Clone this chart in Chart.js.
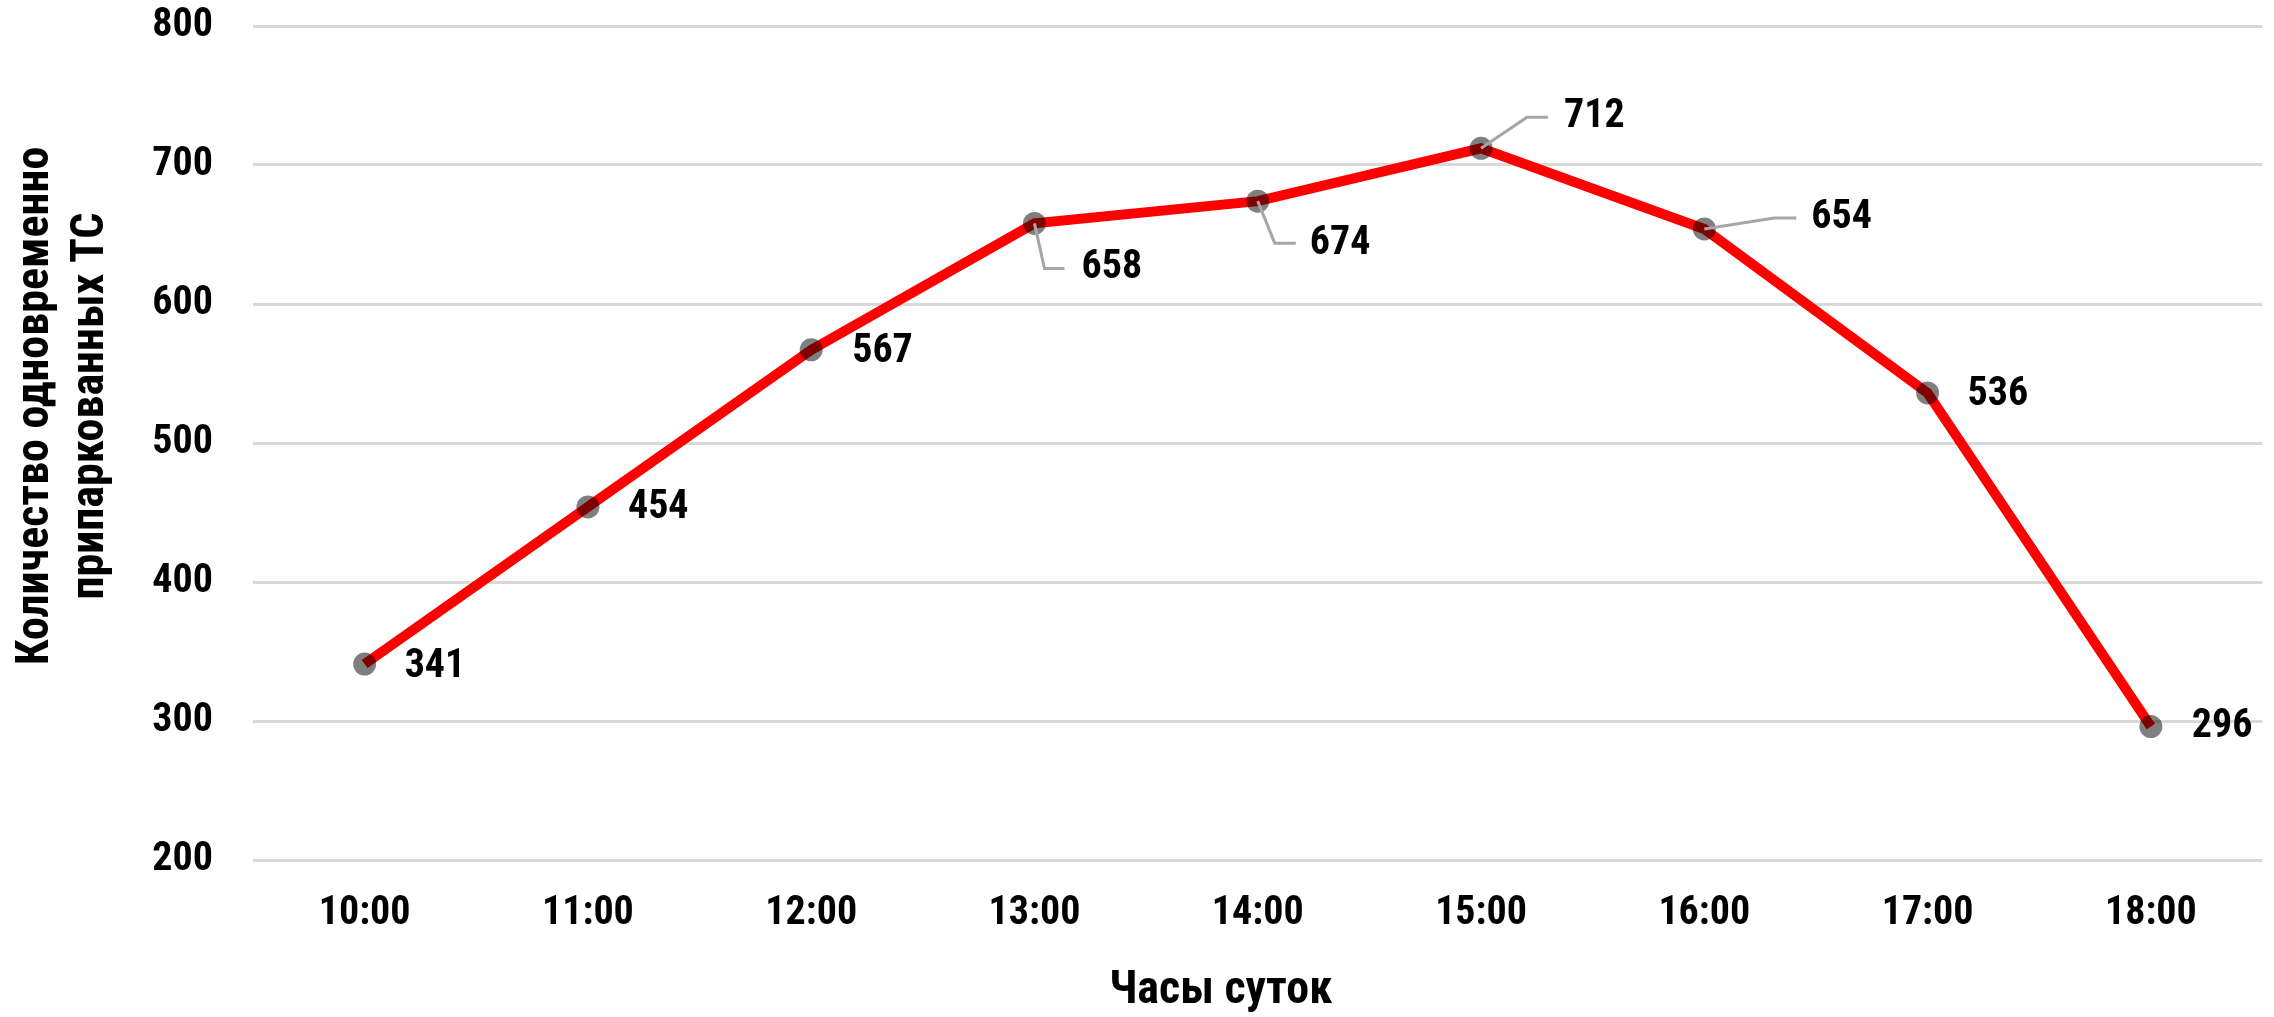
<!DOCTYPE html>
<html>
<head>
<meta charset="utf-8">
<script src="https://cdn.jsdelivr.net/npm/chart.js@4.4.0/dist/chart.umd.min.js"></script>
<style>
  html, body { margin: 0; padding: 0; background: #ffffff; }
  #wrap { width: 2274px; height: 1017px; }
</style>
</head>
<body>
<div id="wrap"><canvas id="parkChart" width="2274" height="1017"></canvas></div>
<script>
// chart data
var hours = ['10:00', '11:00', '12:00', '13:00', '14:00', '15:00', '16:00', '17:00', '18:00'];
var parkedCars = [341, 454, 567, 658, 674, 712, 654, 536, 296];
var yTicks = [200, 300, 400, 500, 600, 700, 800];
var xTitle = 'Часы суток';
var yTitle = ['Количество одновременно', 'припаркованных ТС'];

// narrow bold face, close to Arial Narrow
var FONT = 'Roboto, "Liberation Sans", sans-serif';
var WEIGHT = 'bold condensed';

// where each value label sits relative to its point (px), and its leader line if any
var labelPlacement = [
    { dx: 40, dy: 3 },
    { dx: 40, dy: 1 },
    { dx: 41, dy: 2 },
    { dx: 47, dy: 45, leader: [[10, 45], [30, 45]] },
    { dx: 52, dy: 43, leader: [[17, 42], [38, 42]] },
    { dx: 83, dy: -31, leader: [[46, -31], [67, -31]] },
    { dx: 107, dy: -11, leader: [[70, -11], [92, -11]] },
    { dx: 40, dy: 2 },
    { dx: 41, dy: 0 }
];

// draws the value labels (Excel style, some with leader lines)
var valueLabels = {
    id: 'valueLabels',
    afterDatasetsDraw: function(chart) {
        var ctx = chart.ctx;
        var meta = chart.getDatasetMeta(0);
        ctx.save();
        meta.data.forEach(function(pt, i) {
            var p = labelPlacement[i];
            if (p.leader) {
                ctx.beginPath();
                ctx.strokeStyle = '#a6a6a6';
                ctx.lineWidth = 3;
                ctx.moveTo(pt.x, pt.y);
                p.leader.forEach(function(q) { ctx.lineTo(pt.x + q[0], pt.y + q[1]); });
                ctx.stroke();
            }
            ctx.fillStyle = '#000000';
            ctx.font = WEIGHT + ' 40px ' + FONT;
            ctx.textAlign = 'left';
            ctx.textBaseline = 'middle';
            ctx.fillText(String(parkedCars[i]), pt.x + p.dx, pt.y + p.dy);
        });
        ctx.restore();
    }
};

// axis titles, placed where Excel put them (slightly left of / above the plot centre)
var axisTitles = {
    id: 'axisTitles',
    afterDraw: function(chart) {
        var ctx = chart.ctx;
        var area = chart.chartArea;
        ctx.save();
        ctx.fillStyle = '#000000';
        ctx.font = WEIGHT + ' 46px ' + FONT;
        ctx.textAlign = 'center';
        ctx.textBaseline = 'middle';
        ctx.fillText(xTitle, (area.left + area.right) / 2 - 37, chart.height - 26);

        ctx.translate(36, (area.top + area.bottom) / 2 - 37);
        ctx.rotate(-Math.PI / 2);
        yTitle.forEach(function(line, i) {
            ctx.fillText(line, 0, i * 55);
        });
        ctx.restore();
    }
};

var ctx = document.getElementById('parkChart').getContext('2d');

var chart = new Chart(ctx, {
    type: 'line',
    data: {
        labels: hours,
        datasets: [{
            data: parkedCars,
            borderColor: '#ff0000',
            borderWidth: 10,
            tension: 0,
            pointRadius: 11.5,
            pointHoverRadius: 11.5,
            pointBorderWidth: 0,
            pointBackgroundColor: 'rgba(0, 0, 0, 0.5)'
        }]
    },
    options: {
        responsive: false,
        animation: false,
        devicePixelRatio: 1,
        layout: { padding: { top: 26, right: 10, bottom: 0, left: 0 } },
        plugins: {
            legend: { display: false },
            tooltip: { enabled: false }
        },
        scales: {
            x: {
                offset: true,
                grid: { display: false, drawTicks: false },
                border: { display: false },
                ticks: {
                    color: '#000000',
                    padding: 30,
                    font: { family: FONT, size: 40, weight: WEIGHT }
                },
                afterFit: function(scale) {
                    scale.height = 157;
                    scale.paddingLeft = 0;
                    scale.paddingRight = 0;
                }
            },
            y: {
                min: 200,
                max: 800,
                afterBuildTicks: function(scale) {
                    scale.ticks = yTicks.map(function(v) { return { value: v }; });
                },
                grid: { color: '#d9d9d9', lineWidth: 3, drawTicks: false },
                border: { display: false },
                ticks: {
                    color: '#000000',
                    padding: 40,
                    font: { family: FONT, size: 40, weight: WEIGHT }
                },
                afterFit: function(scale) {
                    scale.width = 253;
                    scale.paddingTop = 0;
                    scale.paddingBottom = 0;
                }
            }
        }
    },
    plugins: [valueLabels, axisTitles]
});
</script>
</body>
</html>
